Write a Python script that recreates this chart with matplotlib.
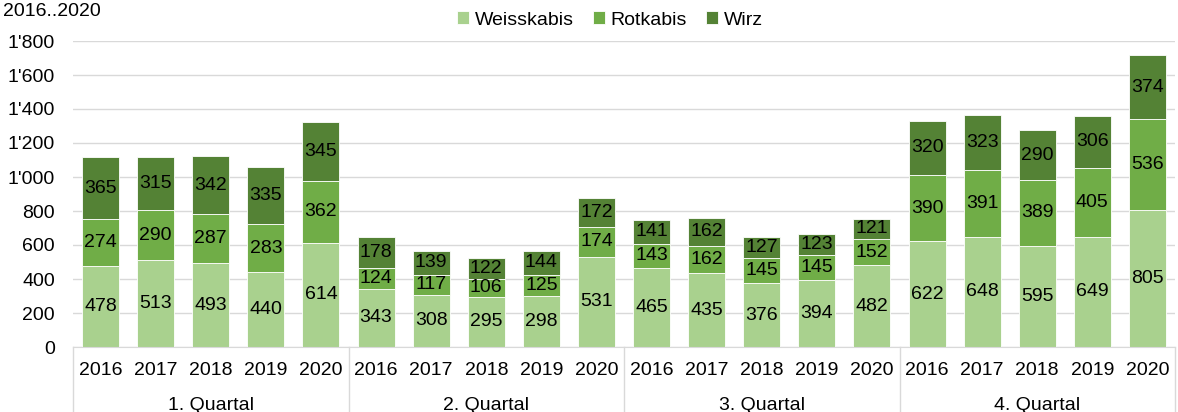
import matplotlib
matplotlib.use("Agg")
import matplotlib.pyplot as plt
from matplotlib.ticker import FuncFormatter
from matplotlib.lines import Line2D
import numpy as np

plt.rcParams['font.family'] = ['Liberation Sans', 'DejaVu Sans']

quarters = ["1. Quartal", "2. Quartal", "3. Quartal", "4. Quartal"]
years = ["2016", "2017", "2018", "2019", "2020"]
series_names = ["Weisskabis", "Rotkabis", "Wirz"]
weisskabis = [478, 513, 493, 440, 614, 343, 308, 295, 298, 531,
              465, 435, 376, 394, 482, 622, 648, 595, 649, 805]
rotkabis = [274, 290, 287, 283, 362, 124, 117, 106, 125, 174,
            143, 162, 145, 145, 152, 390, 391, 389, 405, 536]
wirz = [365, 315, 342, 335, 345, 178, 139, 122, 144, 172,
        141, 162, 127, 123, 121, 320, 323, 290, 306, 374]
colors = ["#A9D18E", "#70AD47", "#548235"]

FS = 14
fig = plt.figure(figsize=(11.78, 4.12), dpi=100)
ax = fig.add_axes([73/1178, 1-347/412, 1-73/1178-3/1178, (347-41)/412])

n = len(weisskabis)
x = np.arange(n)
bottom = np.zeros(n)
for vals, col, name in zip([weisskabis, rotkabis, wirz], colors, series_names):
    vals = np.array(vals, dtype=float)
    ax.bar(x, vals, 0.67, bottom=bottom, color=col, label=name,
           edgecolor="white", linewidth=0.6, zorder=2)
    for xi, b, v in zip(x, bottom, vals):
        ax.text(xi, b + v/2, f"{int(v)}", ha="center", va="center",
                fontsize=FS, color="black", zorder=3)
    bottom += vals

ax.set_xlim(-0.5, n-0.5)
ax.set_ylim(0, 1800)
ax.set_yticks(np.arange(0, 1801, 200))
ax.yaxis.set_major_formatter(FuncFormatter(lambda v, p: f"{int(v):,}".replace(",", "'")))
ax.grid(axis="y", color="#D9D9D9", linewidth=1, zorder=0)
ax.set_axisbelow(True)
for s in ["top", "right", "left"]:
    ax.spines[s].set_visible(False)
ax.spines["bottom"].set_color("#D9D9D9")
ax.tick_params(axis="y", length=0, labelsize=FS, pad=13)
ax.tick_params(axis="x", length=0, labelsize=FS, pad=11)
ax.set_xticks(x)
ax.set_xticklabels(years * len(quarters))

# quarter labels and separators
for qi, q in enumerate(quarters):
    ax.text(qi*5 + 2, -0.19, q, transform=ax.get_xaxis_transform(),
            ha="center", va="center", fontsize=FS, clip_on=False)
for qi in range(len(quarters) + 1):
    xb = qi*5 - 0.5
    ax.add_line(Line2D([xb, xb], [0, -0.25], transform=ax.get_xaxis_transform(),
                       color="#D9D9D9", linewidth=1, clip_on=False))

fig.text(3/1178, 1-12/412, "2016..2020", fontsize=FS, ha="left", va="center")

leg = ax.legend(loc="center", bbox_to_anchor=(610/1178, 1-20/412),
                bbox_transform=fig.transFigure, ncol=3, frameon=False,
                fontsize=FS, handlelength=0.6, handleheight=0.6,
                handletextpad=0.3, columnspacing=1.0)
fig.savefig("out.png", dpi=100)
